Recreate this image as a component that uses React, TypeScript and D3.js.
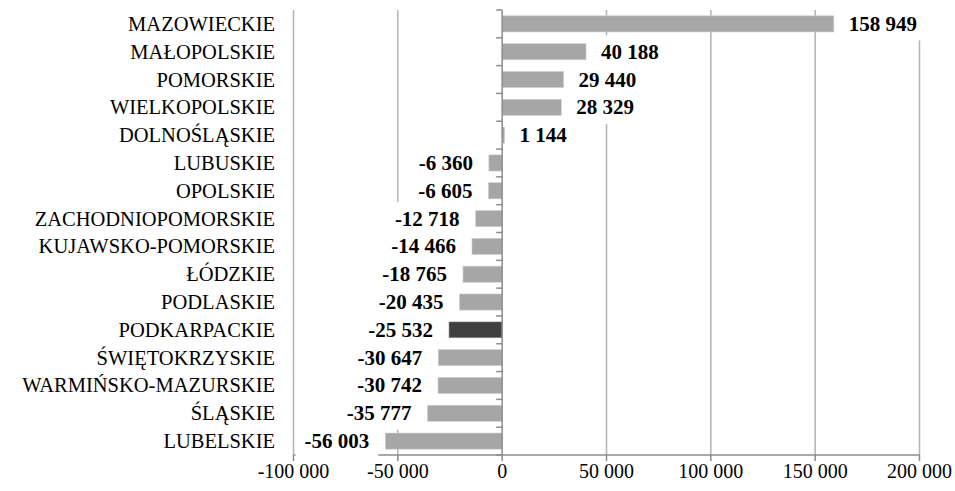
import React from "react";
import * as d3 from "d3";

const categories = [
  "MAZOWIECKIE",
  "MAŁOPOLSKIE",
  "POMORSKIE",
  "WIELKOPOLSKIE",
  "DOLNOŚLĄSKIE",
  "LUBUSKIE",
  "OPOLSKIE",
  "ZACHODNIOPOMORSKIE",
  "KUJAWSKO-POMORSKIE",
  "ŁÓDZKIE",
  "PODLASKIE",
  "PODKARPACKIE",
  "ŚWIĘTOKRZYSKIE",
  "WARMIŃSKO-MAZURSKIE",
  "ŚLĄSKIE",
  "LUBELSKIE",
];

const values = [
  158949, 40188, 29440, 28329, 1144, -6360, -6605, -12718, -14466, -18765,
  -20435, -25532, -30647, -30742, -35777, -56003,
];

const highlighted = ["PODKARPACKIE"];

const xTicks = [-100000, -50000, 0, 50000, 100000, 150000, 200000];

const W = 955;
const H = 491;

const fmt = (v: number) => {
  const s = Math.abs(v)
    .toString()
    .replace(/\B(?=(\d{3})+(?!\d))/g, " ");
  return (v < 0 ? "-" : "") + s;
};

const FONT = "'Liberation Serif', 'Times New Roman', serif";

export default function App() {
  const x = d3.scaleLinear().domain([-100000, 200000]).range([293.5, 919.5]);
  const y = d3
    .scaleBand<string>()
    .domain(categories)
    .range([10, 455])
    .paddingInner(0.42)
    .paddingOuter(0.21);
  const step = y.step();
  const x0 = x(0);
  const labelFs = 21;
  const charW = (s: string) => {
    let w = 0;
    for (const c of s) w += c === " " ? 0.25 : c === "-" ? 0.333 : 0.5;
    return w * labelFs;
  };

  return (
    <div style={{ position: "fixed", left: 0, top: 0 }}>
      <svg width={W} height={H} style={{ display: "block", background: "#fff" }}>
        {/* gridlines */}
        {xTicks
          .filter((t) => t !== 0)
          .map((t) => (
            <line
              key={"g" + t}
              x1={x(t)}
              x2={x(t)}
              y1={10}
              y2={455}
              stroke="#b3b3b3"
              strokeWidth={1.5}
            />
          ))}
        {/* bottom axis */}
        <line x1={x(-100000)} x2={x(200000)} y1={455} y2={455} stroke="#8c8c8c" strokeWidth={1.5} />
        {xTicks.map((t) => (
          <line key={"t" + t} x1={x(t)} x2={x(t)} y1={455} y2={461} stroke="#8c8c8c" strokeWidth={1.5} />
        ))}
        {/* bars */}
        {categories.map((c, i) => {
          const v = values[i];
          const bx = Math.min(x(v), x0);
          const bw = Math.abs(x(v) - x0);
          return (
            <rect
              key={"b" + c}
              x={bx}
              y={y(c)!}
              width={bw}
              height={y.bandwidth()}
              fill={highlighted.includes(c) ? "#404040" : "#a6a6a6"}
              stroke="#d0d0d0"
              strokeWidth={0.6}
            />
          );
        })}
        {/* labels with white boxes */}
        {categories.map((c, i) => {
          const v = values[i];
          const t = fmt(v);
          const tw = charW(t);
          const cy = y(c)! + y.bandwidth() / 2;
          const end = x(v);
          let tx: number, bx: number;
          if (v >= 0) {
            tx = end + 15;
            bx = end + 6;
          } else {
            tx = end - 16 - tw;
            bx = tx - 9;
          }
          return (
            <g key={"l" + c}>
              <rect x={bx} y={cy - 16.5} width={tw + 18} height={33} fill="#fff" />
              <text
                x={tx}
                y={cy + 7}
                fontFamily={FONT}
                fontSize={labelFs}
                fontWeight="bold"
                fill="#000"
              >
                {t}
              </text>
            </g>
          );
        })}
        {/* zero axis */}
        <line x1={x0} x2={x0} y1={10} y2={455} stroke="#8c8c8c" strokeWidth={1.5} />
        {d3.range(categories.length + 1).map((k) => (
          <line
            key={"ct" + k}
            x1={x0 - 6}
            x2={x0}
            y1={10 + k * step}
            y2={10 + k * step}
            stroke="#8c8c8c"
            strokeWidth={1.5}
          />
        ))}
        {/* category labels */}
        {categories.map((c) => (
          <text
            key={"c" + c}
            x={275}
            y={y(c)! + y.bandwidth() / 2 + 7}
            textAnchor="end"
            fontFamily={FONT}
            fontSize={20.5}
            fill="#000"
          >
            {c}
          </text>
        ))}
        {/* x tick labels */}
        {xTicks.map((t) => (
          <text
            key={"xl" + t}
            x={x(t)}
            y={478}
            textAnchor="middle"
            fontFamily={FONT}
            fontSize={20}
            fill="#000"
          >
            {fmt(t)}
          </text>
        ))}
      </svg>
    </div>
  );
}
